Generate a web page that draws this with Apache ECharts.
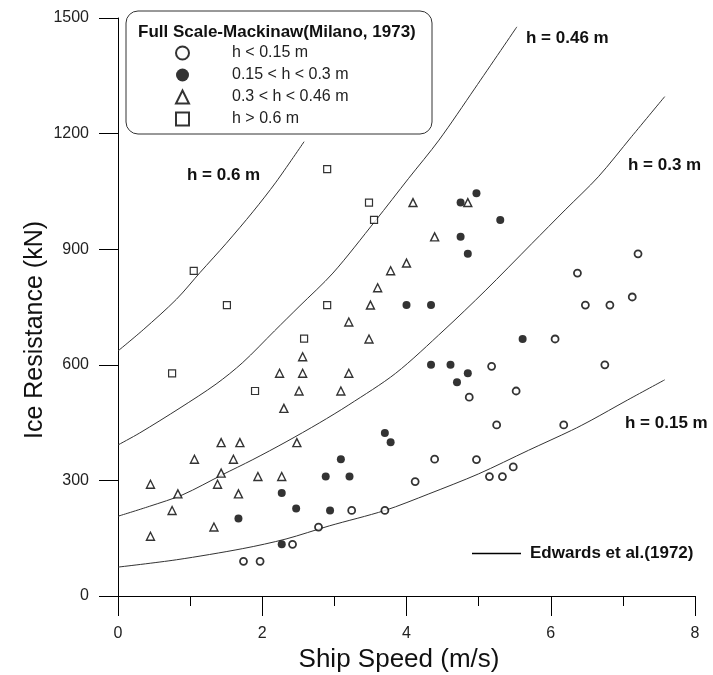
<!DOCTYPE html>
<html>
<head>
<meta charset="utf-8">
<script src="https://cdn.jsdelivr.net/npm/echarts@6/dist/echarts.min.js"></script>
<style>
  html, body { margin: 0; padding: 0; background: #fff; }
  #chart { width: 713px; height: 675px; }
</style>
</head>
<body>
<div id="chart"></div>
<script>
// Ice resistance against ship speed: Mackinaw full-scale trials (Milano, 1973)
// grouped by ice thickness, with the Edwards et al. (1972) prediction curves.

const xTickValues = [0, 2, 4, 6, 8];
const yTickValues = [0, 300, 600, 900, 1200, 1500];

const groupNames = ['h < 0.15 m', '0.15 < h < 0.3 m', '0.3 < h < 0.46 m', 'h > 0.6 m'];

// [speed m/s, resistance kN]
const iceBelow015 = [
  [1.74, 90], [1.97, 90], [2.42, 134], [2.78, 179], [3.24, 222], [3.70, 222],
  [4.12, 297], [4.39, 355], [4.97, 354], [5.15, 310], [5.33, 310], [5.48, 335],
  [5.25, 444], [6.18, 444], [4.87, 516], [5.52, 532], [5.18, 596], [6.75, 600],
  [6.06, 667], [6.48, 755], [6.82, 755], [7.13, 776], [6.37, 838], [7.21, 888]
];
const ice015to03 = [
  [1.67, 201], [2.27, 134], [2.27, 267], [2.47, 227], [2.94, 222], [2.88, 310],
  [3.21, 310], [3.09, 355], [3.70, 423], [3.78, 399], [4.34, 600], [4.61, 600],
  [4.70, 555], [4.85, 578], [5.61, 667], [4.00, 755], [4.34, 755], [4.85, 888],
  [4.75, 932], [4.75, 1021], [4.97, 1045], [5.30, 976]
];
const ice03to046 = [
  [0.45, 155], [0.45, 290], [0.75, 222], [0.83, 265], [1.06, 355], [1.33, 179],
  [1.38, 290], [1.43, 319], [1.43, 398], [1.60, 355], [1.67, 265], [1.69, 398],
  [1.94, 310], [2.27, 310], [2.30, 487], [2.48, 398], [2.24, 578], [2.51, 532],
  [2.56, 578], [2.56, 621], [3.09, 532], [3.20, 578], [3.20, 711], [3.48, 667],
  [3.50, 755], [3.60, 800], [3.78, 844], [4.00, 864], [4.39, 932], [4.09, 1021],
  [4.85, 1021]
];
const iceAbove06 = [
  [0.75, 578], [1.05, 844], [1.51, 755], [1.90, 532], [2.58, 668], [2.90, 755],
  [2.90, 1108], [3.48, 1021], [3.55, 976]
];

// Edwards et al. (1972) curves, one per thickness
const edwardsName = 'Edwards et al.(1972)';
const curveH015 = [
  [0, 75], [0.81, 94], [1.73, 123], [2.33, 148], [2.93, 182], [3.70, 222],
  [4.31, 265], [5.00, 317], [5.69, 378], [6.29, 430], [6.57, 457], [7.03, 505], [7.58, 561]
];
const curveH03 = [
  [0, 207], [0.44, 233], [0.90, 263], [1.45, 315], [1.87, 354], [2.33, 400],
  [2.79, 449], [3.20, 496], [3.85, 578], [4.52, 690], [5.09, 792], [5.74, 915],
  [6.20, 1002], [6.66, 1088], [7.12, 1192], [7.58, 1296]
];
const curveH046 = [
  [0, 392], [0.30, 423], [0.86, 488], [1.36, 550], [1.73, 606], [2.17, 688],
  [2.51, 751], [2.98, 838], [3.57, 974], [4.03, 1084], [4.45, 1183], [4.95, 1318], [5.53, 1477]
];
const curveH06 = [
  [0, 636], [0.35, 691], [0.81, 770], [1.14, 840], [1.50, 915], [1.87, 997],
  [2.19, 1074], [2.58, 1179]
];

const FONT = "'Liberation Sans', Arial, Helvetica, sans-serif";
const INK = '#000';

function scatter(name, data, symbol, filled, size, border) {
  return {
    name, type: 'scatter', data, symbol, symbolSize: size,
    itemStyle: {
      color: filled ? '#000' : '#fff',
      borderColor: '#000',
      borderWidth: filled ? 0 : border
    },
    z: 5
  };
}

function curve(data) {
  return {
    name: edwardsName, type: 'line', data,
    symbol: 'none', showSymbol: false, smooth: 0.3,
    lineStyle: { color: '#333', width: 1 },
    itemStyle: { color: '#000' },
    z: 3, silent: true
  };
}

const chart = echarts.init(document.getElementById('chart'), null, { renderer: 'canvas' });

chart.setOption({
  animation: false,
  backgroundColor: '#fff',
  textStyle: { fontFamily: FONT },
  grid: { left: 118, right: 18, top: 18, bottom: 79 },
  xAxis: {
    type: 'value',
    min: xTickValues[0],
    max: xTickValues[xTickValues.length - 1],
    interval: xTickValues[1] - xTickValues[0],
    axisLine: { show: true, onZero: false, lineStyle: { color: INK, width: 1 } },
    axisTick: { show: true, inside: false, length: 20, lineStyle: { color: INK } },
    minorTick: { show: true, splitNumber: 2, length: 10, lineStyle: { color: INK } },
    splitLine: { show: false },
    minorSplitLine: { show: false },
    axisLabel: { fontSize: 16, color: '#222', margin: 30, fontFamily: FONT, formatter: v => String(v) }
  },
  yAxis: {
    type: 'value',
    min: yTickValues[0],
    max: yTickValues[yTickValues.length - 1],
    interval: yTickValues[1] - yTickValues[0],
    axisLine: { show: true, onZero: false, lineStyle: { color: INK, width: 1 } },
    axisTick: { show: true, inside: false, length: 19, lineStyle: { color: INK } },
    splitLine: { show: false },
    axisLabel: { fontSize: 16, color: '#222', margin: 29, fontFamily: FONT, formatter: v => String(v) }
  },
  legend: [
    {
      data: groupNames,
      orient: 'vertical',
      left: 175,
      top: 45,
      padding: 0,
      itemWidth: 13,
      itemHeight: 13,
      itemGap: 6,
      selectedMode: false,
      textStyle: { fontSize: 16, color: '#222', fontFamily: FONT, padding: [0, 0, 0, 38] }
    },
    {
      data: [edwardsName],
      orient: 'horizontal',
      left: 472,
      top: 545,
      padding: 0,
      icon: 'rect',
      itemWidth: 49,
      itemHeight: 1.5,
      itemStyle: { color: '#000', borderWidth: 0 },
      selectedMode: false,
      textStyle: { fontSize: 17, fontWeight: 'bold', color: '#111', fontFamily: FONT, padding: [0, 0, 0, 4] }
    }
  ],
  graphic: [
    {
      type: 'rect',
      shape: { x: 126, y: 11, width: 306, height: 123, r: 12 },
      style: { fill: '#fff', stroke: '#333', lineWidth: 1 },
      z: 1
    },
    {
      type: 'text',
      style: { x: 138, y: 32, text: 'Full Scale-Mackinaw(Milano, 1973)', fontSize: 17, fontWeight: 'bold',
               fontFamily: FONT, fill: '#111', verticalAlign: 'middle', align: 'left' },
      z: 2
    },
    { type: 'text', style: { x: 187, y: 175, text: 'h = 0.6 m', fontSize: 17, fontWeight: 'bold', fontFamily: FONT, fill: '#111', verticalAlign: 'middle' } },
    { type: 'text', style: { x: 526, y: 38, text: 'h = 0.46 m', fontSize: 17, fontWeight: 'bold', fontFamily: FONT, fill: '#111', verticalAlign: 'middle' } },
    { type: 'text', style: { x: 628, y: 165, text: 'h = 0.3 m', fontSize: 17, fontWeight: 'bold', fontFamily: FONT, fill: '#111', verticalAlign: 'middle' } },
    { type: 'text', style: { x: 625, y: 423, text: 'h = 0.15 m', fontSize: 17, fontWeight: 'bold', fontFamily: FONT, fill: '#111', verticalAlign: 'middle' } },
    {
      type: 'text', x: 35, y: 330, rotation: Math.PI / 2,
      style: { text: 'Ice Resistance (kN)', fontSize: 25, fontFamily: FONT, fill: '#111', align: 'center', verticalAlign: 'middle' }
    },
    {
      type: 'text', x: 399, y: 660,
      style: { text: 'Ship Speed (m/s)', fontSize: 26, fontFamily: FONT, fill: '#111', align: 'center', verticalAlign: 'middle' }
    }
  ],
  series: [
    curve(curveH015),
    curve(curveH03),
    curve(curveH046),
    curve(curveH06),
    scatter(groupNames[0], iceBelow015, 'circle', false, 7, 1.8),
    scatter(groupNames[1], ice015to03, 'circle', true, 8, 0),
    scatter(groupNames[2], ice03to046, 'triangle', false, 8, 1.4),
    scatter(groupNames[3], iceAbove06, 'rect', false, 7, 1.2)
  ]
});
</script>
</body>
</html>
